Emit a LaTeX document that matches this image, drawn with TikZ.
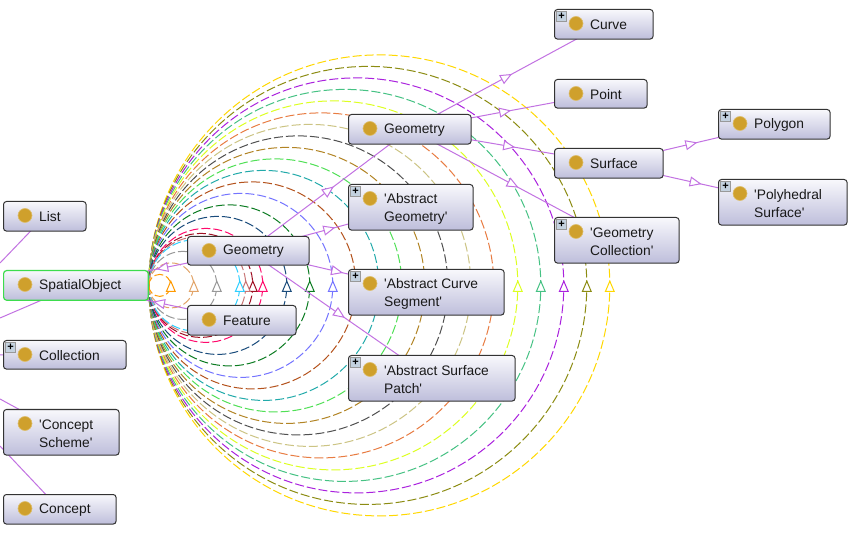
\documentclass[tikz,border=0pt]{standalone}
\usepackage{fontspec}
\setmainfont{Liberation Sans}
\usetikzlibrary{arrows.meta,decorations.markings,backgrounds}
\definecolor{edgepurple}{HTML}{C272E2}
\definecolor{topfill}{HTML}{F8F8FC}
\definecolor{botfill}{HTML}{BEBEDB}
\definecolor{goldball}{HTML}{CFA02C}
\definecolor{selgreen}{HTML}{3DDC4D}
\definecolor{plusfill}{HTML}{C4D2E0}
\definecolor{ca}{HTML}{FF9A00}
\definecolor{cb}{HTML}{E2A468}
\definecolor{cc}{HTML}{989898}
\definecolor{cd}{HTML}{2FCFFF}
\definecolor{ce}{HTML}{C87474}
\definecolor{cf}{HTML}{A01024}
\definecolor{cg}{HTML}{FF0A6C}
\definecolor{ch}{HTML}{1A4C7C}
\definecolor{ci}{HTML}{0C7C22}
\definecolor{cj}{HTML}{7474FF}
\definecolor{ck}{HTML}{B4521C}
\definecolor{cl}{HTML}{22AAAA}
\definecolor{cm}{HTML}{50E056}
\definecolor{cn}{HTML}{B28424}
\definecolor{co}{HTML}{505050}
\definecolor{cp}{HTML}{CCC484}
\definecolor{cq}{HTML}{E87C42}
\definecolor{cr}{HTML}{DDFF22}
\definecolor{cs}{HTML}{46C284}
\definecolor{ct}{HTML}{AA22DE}
\definecolor{cu}{HTML}{8C8C12}
\definecolor{cv}{HTML}{FFD800}
\tikzset{
  opentip/.tip={Triangle[length=12pt,width=10pt,fill=white,line width=1pt]},
  ringarc/.style={line width=1pt,dash pattern=on 9pt off 3pt,
    postaction={decorate,decoration={markings,mark=at position 0.5 with {\arrow[xshift=5.5pt]{opentip}}}}},
  isaedge/.style={color=edgepurple,line width=1pt,
    postaction={decorate,decoration={markings,mark=at position 0.5 with {\arrow[xshift=6pt]{opentip}}}}},
  plainedge/.style={color=edgepurple,line width=1pt},
  classbox/.style={rectangle,rounded corners=3pt,draw=black!80,line width=1pt,
    top color=topfill,bottom color=botfill,anchor=north west,inner sep=0pt},
  ball/.style={circle,fill=goldball,draw=goldball!70!white,line width=.6pt,minimum size=14pt,inner sep=0pt},
  classtext/.style={anchor=west,align=left,inner sep=0pt,font=\fontsize{13.8}{17.6}\selectfont,text=black!90},
  plusbox/.style={rectangle,draw=gray!80,fill=plusfill,line width=.8pt,minimum size=9.5pt,inner sep=0pt,
    font=\fontsize{11}{11}\bfseries\selectfont,text=black}
}
\newcommand{\qq}{\textquotesingle}
% [box options], name, x1, y1, x2, y2, text
\newcommand{\klass}[7][]{%
  \pgfmathsetmacro\kw{#5-#3-.4}\pgfmathsetmacro\kh{#6-#4-.4}%
  \pgfmathsetmacro\kc{(#4+#6)/2+.9+ifthenelse(#6-#4>40,.9,0)}%
  \pgfmathsetmacro\kb{#4+14.5}%
  \node[classbox,minimum width=\kw pt,minimum height=\kh pt,#1] (#2) at (#3,#4) {};%
  \node[ball] (#2-ball) at (#3+22,\kb) {};%
  \node[classtext] (#2-text) at (#3+36,\kc) {#7};%
}
\newcommand{\plusmark}[1]{\node[plusbox] (#1-plus) at ([xshift=7.5pt,yshift=-7.5pt]#1.north west) {+};}
\begin{document}
\begin{tikzpicture}[x=1pt,y=-1pt]
\useasboundingbox (0,0) rectangle (854,534);
\klass{list}{3}{201}{86}{231}{List}
\klass[draw=selgreen,line width=1.2pt]{spatial}{3}{270}{148}{300}{SpatialObject}
\klass{collection}{3}{340}{126}{369}{Collection}
\klass{scheme}{3}{409}{119}{455}{\qq Concept\\Scheme\qq}
\klass{concept}{3}{494}{116}{524}{Concept}
\klass{geomsmall}{187}{236}{309}{265}{Geometry}
\klass{feature}{187}{305}{296}{335}{Feature}
\klass{geomtop}{348}{114}{471}{144}{Geometry}
\klass{curve}{554}{9}{653}{39}{Curve}
\klass{point}{554}{79}{647}{108}{Point}
\klass{surface}{554}{148}{663}{178}{Surface}
\klass{polygon}{718}{109}{830}{139}{Polygon}
\klass{polyhedral}{718}{179}{847}{225}{\qq Polyhedral\\Surface\qq}
\klass{geomcoll}{554}{217}{679}{263}{\qq Geometry\\Collection\qq}
\klass{absgeom}{348}{184}{473}{230}{\qq Abstract\\Geometry\qq}
\klass{abscurve}{348}{269}{504}{315}{\qq Abstract Curve\\Segment\qq}
\klass{abssurf}{348}{355}{515}{401}{\qq Abstract Surface\\Patch\qq}
\plusmark{collection}\plusmark{curve}\plusmark{polygon}\plusmark{polyhedral}
\plusmark{geomcoll}\plusmark{absgeom}\plusmark{abscurve}\plusmark{abssurf}
\coordinate (freelist) at (0,263);
\coordinate (freespatial) at (0,318);
\coordinate (freecoll) at (0,355);
\coordinate (freescheme) at (0,399);
\coordinate (freeconcept) at (0,446);
\begin{pgfonlayer}{background}
\fill[white] (0,0) rectangle (854,534);
\foreach \xr/\cc in {609/cv,586/cu,563/ct,540/cs,517/cr,493/cq,470/cp,447/co,424/cn,401/cm,378/cl,355/ck,332/cj,309/ci,286/ch,262/cg,252/cf,245/ce,239/cd,216/cc,193/cb,170/ca}{
  \pgfmathsetmacro\rr{(\xr-148)/2}
  \draw[ringarc,color=\cc] (spatial.east) arc[start angle=180,end angle=540,radius=\rr pt];
}
\draw[plainedge] (list.center) -- (freelist);
\draw[plainedge] (spatial.center) -- (freespatial);
\draw[plainedge] (collection.center) -- (freecoll);
\draw[plainedge] (scheme.center) -- (freescheme);
\draw[plainedge] (concept.center) -- (freeconcept);
\draw[isaedge] (geomsmall.center) -- (spatial.center);
\draw[isaedge] (feature.center) -- (spatial.center);
\draw[isaedge] (geomsmall.center) -- (geomtop.center);
\draw[isaedge] (geomsmall.center) -- (absgeom.center);
\draw[isaedge] (geomsmall.center) -- (abscurve.center);
\draw[isaedge] (geomsmall.center) -- (abssurf.center);
\draw[isaedge] (geomtop.center) -- (curve.center);
\draw[isaedge] (geomtop.center) -- (point.center);
\draw[isaedge] (geomtop.center) -- (surface.center);
\draw[isaedge] (geomtop.center) -- (geomcoll.center);
\draw[isaedge] (surface.center) -- (polygon.center);
\draw[isaedge] (surface.center) -- (polyhedral.center);
\end{pgfonlayer}
\end{tikzpicture}
\end{document}
